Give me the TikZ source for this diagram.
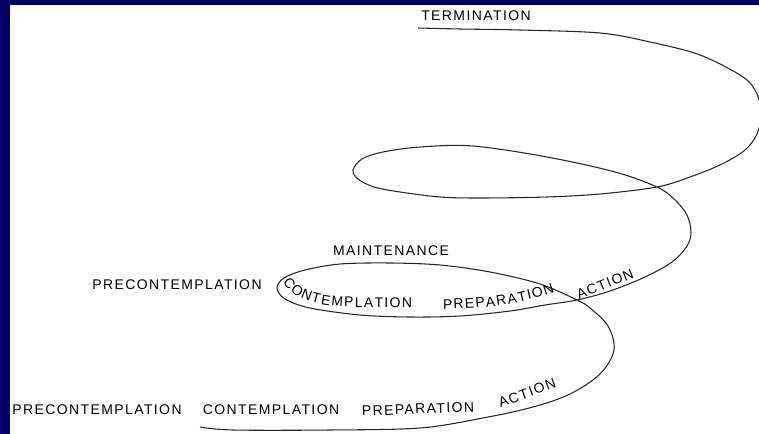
\documentclass[tikz,border=0pt]{standalone}
\usepackage{fontspec}
\setmainfont{Liberation Sans}[LetterSpace=10]
\usetikzlibrary{decorations.text}
\definecolor{framenavy}{RGB}{0,0,102}
\newcommand{\stagefont}{\fontsize{10.5}{12}\selectfont}
\tikzset{
  spiral/.style={line width=0.8pt, black!85, line join=round},
  stage/.style={inner sep=0pt, font=\stagefont},
  bent stage/.style={decorate, decoration={text along path, text align=left, text={|\stagefont|#1}}},
}

\begin{document}
\begin{tikzpicture}[x=0.75pt, y=-0.75pt]
  % Page and frame
  \useasboundingbox (0,0) rectangle (759,434);
  \fill[white] (0,0) rectangle (759,434);
  \fill[framenavy] (0,0) rectangle (10,434);
  \fill[framenavy] (0,0) rectangle (759,5);

  % Spiral, from the bottom turn up to termination
  \draw[spiral] plot[smooth, tension=0.55] coordinates {
    (200,427) (233,430) (330,430) (420,428) (483,418) (533,407)
    (570,394) (600,374) (614,350) (608,326) (590,308) (577,300)
    (540,284) (490,272) (440,265) (390,263) (340,264) (305,270)
    (284,278) (277,288) (285,299) (310,308) (360,315) (410,317)
    (460,316) (510,311) (545,305) (577,300) (610,291) (645,277)
    (672,262) (687,246) (691,232) (687,215) (675,200) (657,187)
    (615,172) (547,157) (473,146) (420,147) (383,152) (362,159)
    (353,170) (358,179) (374,187) (400,192) (440,197) (480,198)
    (547,197) (600,194) (657,187) (690,177) (722,164) (745,150)
    (757,134) (761,114) (757,94) (743,77) (700,55) (650,42)
    (600,33) (520,30) (460,29) (418,28)};

  % Stages, first turn
  \node[stage] (pre1) at (97,410) {PRECONTEMPLATION};
  \node[stage] (con1) at (271,410) {CONTEMPLATION};
  \node[stage, rotate=2] (prep1) at (418,409) {PREPARATION};
  \node[stage, rotate=20] (act1) at (527,393) {ACTION};

  % Stages, second turn
  \node[stage] (pre2) at (177,285) {PRECONTEMPLATION};
  \path[bent stage={C{\kern1pt}O{\kern1pt}N{\kern1pt}T{\kern1pt}E{\kern1pt}M{\kern1pt}P{\kern1pt}L{\kern1pt}A{\kern1pt}T{\kern1pt}I{\kern1pt}O{\kern1pt}N}]
    (283,282) .. controls (292,297) and (310,305) .. (345,307) -- (450,308);
  \path[bent stage={P{\kern1pt}R{\kern1pt}E{\kern1pt}P{\kern1pt}A{\kern1pt}R{\kern1pt}A{\kern1pt}T{\kern1pt}I{\kern1pt}O{\kern1pt}N}]
    (443,309) .. controls (490,309) and (530,303) .. (570,286);
  \node[stage, rotate=22] (act2) at (605,284) {ACTION};
  \node[stage] (maint) at (391,251) {MAINTENANCE};

  % Exit
  \node[stage] (term) at (476,16) {TERMINATION};
\end{tikzpicture}
\end{document}
